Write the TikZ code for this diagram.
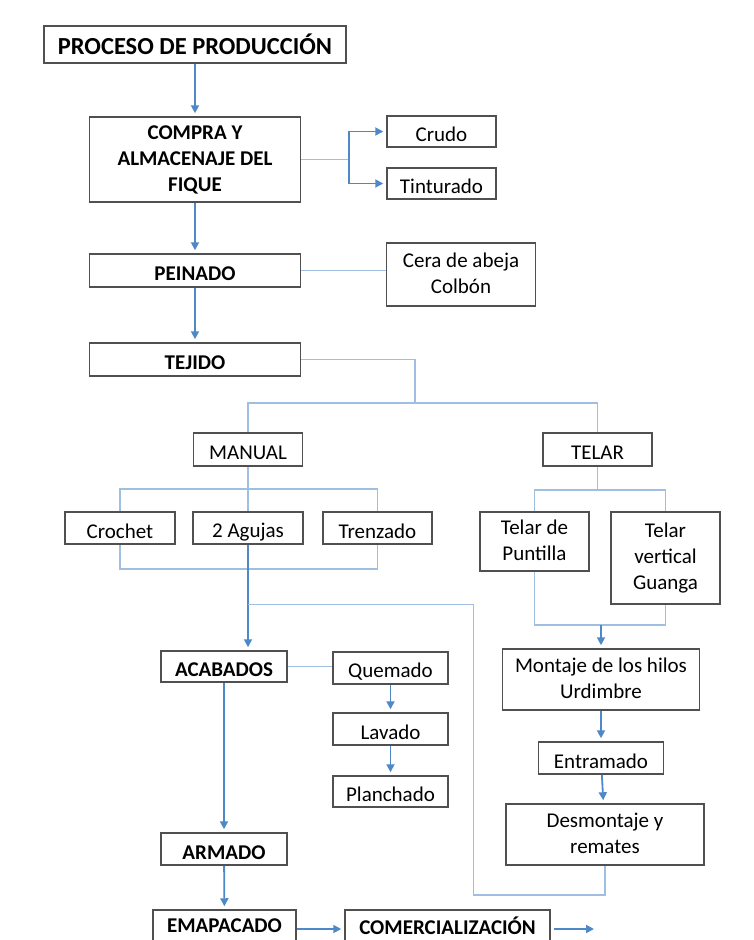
\documentclass[tikz,border=0pt]{standalone}
\usepackage{fontspec}
\setmainfont{Carlito}
\usepackage{tikz}
\usetikzlibrary{arrows.meta}
\definecolor{arrblue}{RGB}{79,136,198}
\definecolor{lnblue}{RGB}{160,190,225}
\definecolor{bxgray}{RGB}{80,80,80}
\tikzset{plainbx/.style={draw=bxgray,line width=1.5pt,align=center,inner sep=0pt,font=\fontsize{21}{26}\selectfont\bfseries},
  bx/.style={plainbx,font=\fontsize{21}{26}\selectfont,
    execute at begin node=\rule{0pt}{22pt},execute at end node=\rule[-2pt]{0pt}{2pt}},
  bbx/.style={bx,font=\fontsize{21}{26}\selectfont\bfseries},
  sz/.style 2 args={minimum width=#1pt,minimum height=#2pt},
  arr/.style={draw=arrblue,line width=1.8pt,-{Triangle[length=8pt,width=8pt]},shorten >=3pt},
  ln/.style={draw=lnblue,line width=1.3pt}}

\begin{document}
\begin{tikzpicture}[x=1pt,y=-1pt]
\useasboundingbox (0,0) rectangle (754,940); \clip (0,0) rectangle (754,940);
% main column
\node[bbx,sz={302}{37},font=\fontsize{24.5}{28}\selectfont\bfseries] (proc) at (195,44.5) {PROCESO DE PRODUCCIÓN};
\node[bbx,sz={211}{85}] (compra) at (195,159.5) {COMPRA Y\\ALMACENAJE DEL\\FIQUE};
\node[bx,sz={109}{31}] (crudo) at (441.5,131.5) {Crudo}; \node[bx,sz={109}{31}] (tint) at (441.5,183.5) {Tinturado};
\node[bbx,sz={211}{33}] (peinado) at (195,270.5) {PEINADO}; \node[bx,sz={149}{63}] (cera) at (461,274.5) {Cera de abeja\\Colbón};
\node[bbx,sz={211}{33}] (tejido) at (195,359.5) {TEJIDO};
\node[bx,sz={109}{33}] (manual) at (248,449.5) {MANUAL}; \node[bx,sz={109}{33}] (telar) at (597.5,449.5) {TELAR};
\node[bx,sz={110}{32}] (crochet) at (120,528) {Crochet}; \node[bx,sz={110}{32}] (agujas) at (248,528) {2 Agujas};
\node[bx,sz={109}{32}] (trenzado) at (377.5,528) {Trenzado};
\node[bx,sz={109}{59}] (puntilla) at (534.5,541.5) {Telar de\\Puntilla}; \node[bx,sz={109}{92}] (guanga) at (665.5,558) {Telar\\vertical\\Guanga};
% acabados
\node[bbx,sz={126}{31}] (acabados) at (224,666.5) {ACABADOS};
\node[bx,sz={115}{32}] (quemado) at (390.5,668) {Quemado}; \node[bx,sz={115}{32}] (lavado) at (390.5,729) {Lavado};
\node[bx,sz={115}{31}] (planchado) at (390.5,791.5) {Planchado};
\node[bbx,sz={126}{32}] (armado) at (224,849) {ARMADO};
\node[plainbx,sz={143}{32}] (emapacado) at (224.5,926) {EMAPACADO}; \node[plainbx,sz={205}{32}] (comerc) at (447.5,926) {COMERCIALIZACIÓN};
% telar
\node[bx,sz={197}{61}] (montaje) at (601,679.5) {Montaje de los hilos\\Urdimbre};
\node[bx,sz={125}{32}] (entramado) at (601,758) {Entramado}; \node[bx,sz={198}{61}] (desmontaje) at (605,834.5) {Desmontaje y\\remates};
\coordinate (b1) at (349,159.5); \coordinate (tj) at (415,403); \coordinate (mj) at (248,489); \coordinate (tl) at (597.5,490);
\coordinate (tm) at (601,625); \coordinate (lp) at (473.5,895); \coordinate (ab) at (248,604.5); \coordinate (fin) at (597,929);
\draw[arr] (proc) -- (compra); \draw[arr] (compra) -- (peinado); \draw[arr] (peinado) -- (tejido);
\draw[ln] (compra.east) -- (b1); \draw[arr] (b1) |- (crudo.west); \draw[arr] (b1) |- (tint.west);
\draw[ln] (peinado.east) -- (peinado.east -| cera.west);
\draw[ln] (tejido.east) -| (tj); \draw[ln] (manual.north) |- (tj) -| (telar.north);
\draw[ln] (manual.south) -- (agujas.north); \draw[ln] (crochet.north) |- (mj) -| (trenzado.north);
\draw[ln] (crochet.south) |- (agujas.south |- 0,569) -| (trenzado.south);
\draw[ln] (telar.south) -- (tl); \draw[ln] (puntilla.north) |- (tl) -| (guanga.north);
\draw[ln] (puntilla.south) |- (tm) -| (guanga.south);
\draw[arr] (agujas.south) -- (agujas.south |- acabados.north);
\draw[ln] (ab) -| (lp) -| (desmontaje.south);
\draw[ln] (acabados.east) -- (acabados.east -| quemado.west);
\draw[arr] (quemado) -- (lavado); \draw[arr] (lavado) -- (planchado);
\draw[arr] (acabados) -- (armado); \draw[arr] (armado) -- (emapacado);
\draw[arr] ([yshift=-3pt]emapacado.east) -- ([yshift=-3pt]comerc.west); \draw[arr] ([xshift=3pt]comerc.east |- fin) -- (fin);
\draw[arr] (tm) -- (montaje.north); \draw[arr] (montaje) -- (entramado); \draw[arr] (entramado) -- (desmontaje);
\end{tikzpicture}
\end{document}
